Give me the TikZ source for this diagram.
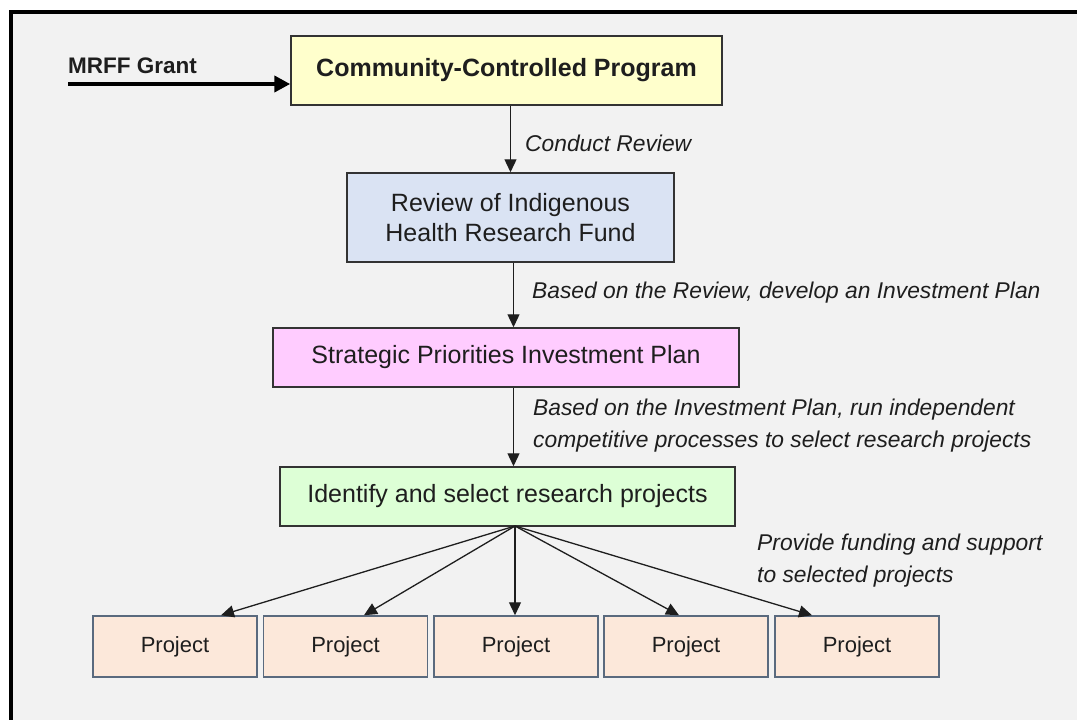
\documentclass[tikz,border=0pt]{standalone}
\usepackage{fontspec}
\setmainfont{Liberation Sans}
\usetikzlibrary{arrows.meta}

\definecolor{panel}{HTML}{F2F2F2}
\definecolor{edge}{HTML}{333333}
\definecolor{projedge}{HTML}{5A6A7E}
\definecolor{ink}{HTML}{1E1E1E}
\definecolor{progfill}{HTML}{FFFFCC}
\definecolor{revfill}{HTML}{DAE3F3}
\definecolor{planfill}{HTML}{FFCCFF}
\definecolor{selfill}{HTML}{DDFFD6}
\definecolor{projfill}{HTML}{FCE8DA}

\tikzset{
  box/.style={draw=edge, line width=1.5pt, inner sep=0pt, text=ink,
    align=center, font=\fontsize{25}{30}\selectfont},
  projbox/.style={draw=projedge, fill=projfill, line width=1.5pt, inner sep=0pt,
    minimum width=164pt, minimum height=61pt, text=ink,
    font=\fontsize{22}{26}\selectfont},
  note/.style={anchor=west, align=left, inner sep=0pt, text=ink,
    font=\fontsize{22.8}{32}\selectfont\itshape},
  flow/.style={draw=ink, line width=1.3pt, -{Triangle[length=13pt,width=12pt]}},
}

\begin{document}
\begin{tikzpicture}[x=1pt,y=-1pt]
  \useasboundingbox (0,0) rectangle (1077,720);
  \fill[white] (0,0) rectangle (1077,720);
  \fill[panel] (10.5,11.7) rectangle (1077,720);
  \draw[line width=4pt] (10.5,720) -- (10.5,11.7) -- (1077,11.7);

  \node[box, fill=progfill, minimum width=431pt, minimum height=69pt,
    font=\fontsize{25}{30}\selectfont\bfseries] (prog) at (506.5,70.5) {Community-Controlled Program};
  \node[box, fill=revfill, minimum width=327pt, minimum height=89pt] (rev) at (510.5,217.5)
    {Review of Indigenous\\Health Research Fund};
  \node[box, fill=planfill, minimum width=466pt, minimum height=59pt] (plan) at (506,357.5)
    {Strategic Priorities Investment Plan};
  \node[box, fill=selfill, minimum width=455pt, minimum height=59pt] (sel) at (507.5,496.5)
    {Identify and select research projects};

  \node[projbox] (p1) at (175,646.5) {Project};
  \node[projbox] (p2) at (345.5,646.5) {Project};
  \node[projbox] (p3) at (516,646.5) {Project};
  \node[projbox] (p4) at (686,646.5) {Project};
  \node[projbox] (p5) at (857,646.5) {Project};

  \node[anchor=base west, inner sep=0pt, text=ink,
    font=\fontsize{22.5}{27}\selectfont\bfseries] (grant) at (68,73) {MRFF Grant};
  \coordinate (gstart) at (68,84);
  \draw[line width=4pt, -{Triangle[length=16pt,width=16pt]}] (gstart) -- (gstart -| prog.west);

  \coordinate (spine) at (513.5,0);
  \coordinate (fan) at (515,526);

  \draw[flow] (rev.north |- prog.south) -- (rev.north);
  \draw[flow] (spine |- rev.south) -- (spine |- plan.north);
  \draw[flow] (spine |- plan.south) -- (spine |- sel.north);

  \draw[flow] (fan) -- ([xshift=46pt]p1.north);
  \draw[flow] (fan) -- ([xshift=18.5pt]p2.north);
  \draw[flow] (fan) -- (fan |- p3.north);
  \draw[flow] (fan) -- ([xshift=-7pt]p4.north);
  \draw[flow] (fan) -- ([xshift=-45pt]p5.north);

  \node[note] (n1) at (525,143) {Conduct Review};
  \node[note] (n2) at (532,293) {Based on the Review, develop an Investment Plan};
  \node[note] (n3) at (533,426) {Based on the Investment Plan, run independent\\competitive processes to select research projects};
  \node[note] (n4) at (757,561) {Provide funding and support\\to selected projects};
\end{tikzpicture}
\end{document}
